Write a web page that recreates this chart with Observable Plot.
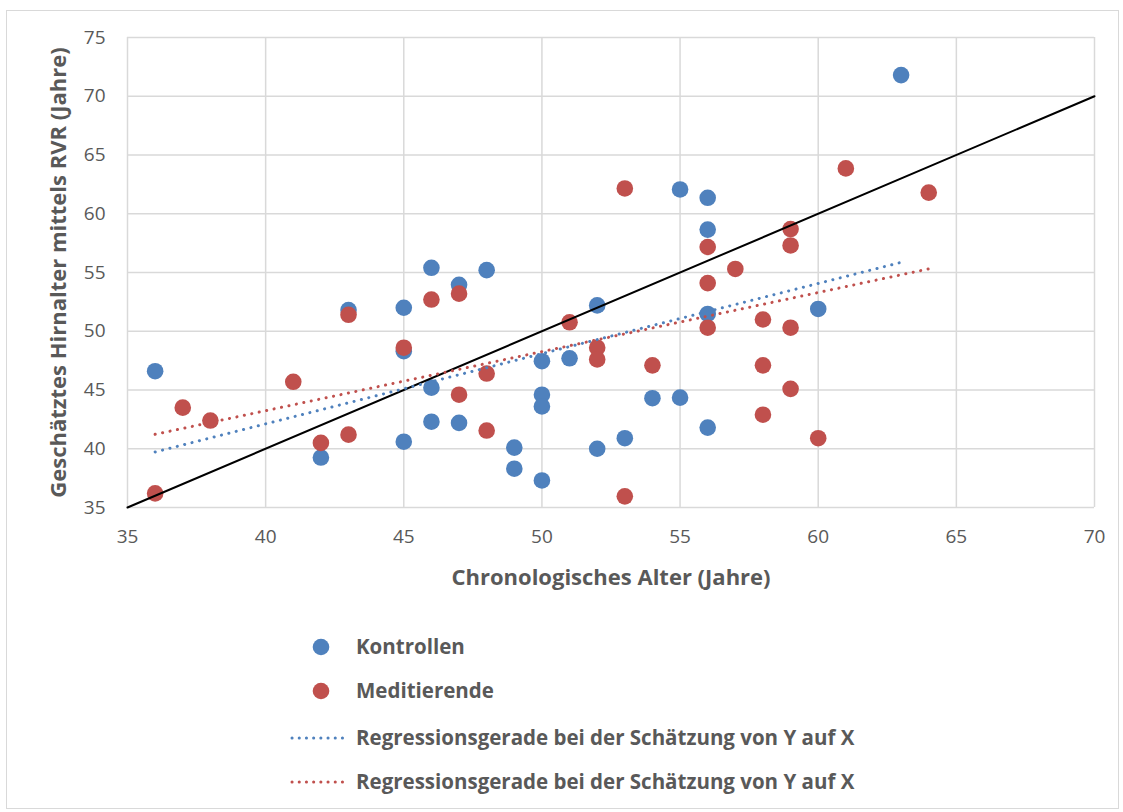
<!DOCTYPE html>
<html><head><meta charset="utf-8">
<script src="https://cdn.jsdelivr.net/npm/d3@7"></script>
<script src="https://cdn.jsdelivr.net/npm/@observablehq/plot@0.6"></script>
<style>
body{margin:0;background:#fff;font-family:"Open Sans",Lato,sans-serif;}
#wrap{position:relative;width:1123px;height:812px;overflow:hidden;background:#fff}
#frame{position:absolute;left:6px;top:10px;width:1113px;height:799px;border:1px solid #d9d9d9;box-sizing:border-box}
#chart{position:absolute;left:0;top:0}
.leg{position:absolute;left:0;height:26px;font-weight:bold;font-size:20.5px;color:#595959;white-space:nowrap}
.leg svg{position:absolute;left:0;top:0}
.leg span{position:absolute;left:356px;top:50%;transform:translateY(-52%)}
</style></head>
<body><div id="wrap"><div id="frame"></div><div id="chart"></div><div id="legend"></div></div>
<script>
// Chronologisches Alter (x) und geschätztes Hirnalter (y)
const kontrollenAlter   = [36, 42, 43, 45, 45, 45, 46, 46, 46, 47, 47, 48, 49, 49, 50, 50, 50, 50, 51, 52, 52, 53, 54, 55, 55, 56, 56, 56, 56, 60, 63];
const kontrollenHirn    = [46.6, 39.25, 51.8, 52.0, 48.3, 40.6, 55.4, 45.2, 42.3, 53.95, 42.2, 55.2, 40.1, 38.3, 47.45, 44.6, 43.6, 37.3, 47.7, 52.2, 40.0, 40.9, 44.3, 62.07, 44.35, 61.36, 58.65, 51.47, 41.8, 51.9, 71.8];
const meditierendeAlter = [36, 37, 38, 41, 42, 43, 43, 45, 46, 47, 47, 48, 48, 51, 52, 52, 53, 53, 54, 56, 56, 56, 57, 58, 58, 58, 59, 59, 59, 59, 60, 61, 64];
const meditierendeHirn  = [36.2, 43.5, 42.4, 45.7, 40.5, 51.4, 41.2, 48.6, 52.7, 53.2, 44.6, 46.4, 41.55, 50.76, 48.6, 47.6, 62.15, 35.95, 47.1, 57.17, 54.1, 50.3, 55.3, 51.0, 47.1, 42.9, 58.7, 57.3, 50.3, 45.1, 40.9, 63.86, 61.8];
const identitaet = [35, 70];
const xTicks = [35, 40, 45, 50, 55, 60, 65, 70];
const yTicks = [35, 40, 45, 50, 55, 60, 65, 70, 75];
const xTitle = "Chronologisches Alter (Jahre)";
const yTitle = "Geschätztes Hirnalter mittels RVR (Jahre)";
const legendLabels = ["Kontrollen", "Meditierende", "Regressionsgerade bei der Schätzung von Y auf X", "Regressionsgerade bei der Schätzung von Y auf X"];

const blue = "#4F81BD", red = "#C0504D", grey = "#595959";
const font = "'Open Sans', Lato, sans-serif";
const kontrollen = kontrollenAlter.map((x, i) => ({x, y: kontrollenHirn[i]}));
const meditierende = meditierendeAlter.map((x, i) => ({x, y: meditierendeHirn[i]}));

const chart = Plot.plot({
  width: 1123, height: 600,
  marginLeft: 127, marginRight: 29, marginTop: 37, marginBottom: 93,
  style: {fontFamily: font, color: grey, background: "transparent", overflow: "visible"},
  x: {domain: [35, 70], ticks: xTicks},
  y: {domain: [35, 75], ticks: yTicks},
  marks: [
    Plot.gridX(xTicks, {stroke: "#d9d9d9", strokeOpacity: 1, strokeWidth: 1.5}),
    Plot.gridY(yTicks, {stroke: "#d9d9d9", strokeOpacity: 1, strokeWidth: 1.5}),
    Plot.axisX(xTicks, {tickSize: 0, tickPadding: 22, fontSize: 19, fill: grey, label: null}),
    Plot.axisY(yTicks, {tickSize: 0, tickPadding: 22, fontSize: 19, fill: grey, label: null}),
    Plot.dot(kontrollen, {x: "x", y: "y", r: 8.3, fill: blue}),
    Plot.dot(meditierende, {x: "x", y: "y", r: 8.3, fill: red}),
    Plot.line(identitaet, {x: d => d, y: d => d, stroke: "#000", strokeWidth: 2}),
    Plot.linearRegressionY(kontrollen, {x: "x", y: "y", stroke: blue, ci: 0, strokeWidth: 3, strokeDasharray: "0.1 7.5", strokeLinecap: "round"}),
    Plot.linearRegressionY(meditierende, {x: "x", y: "y", stroke: red, ci: 0, strokeWidth: 3, strokeDasharray: "0.1 7.5", strokeLinecap: "round"}),
    Plot.text([xTitle], {text: d => d, frameAnchor: "bottom", lineAnchor: "middle", textAnchor: "middle", dy: 70, fontSize: 22, fontWeight: "bold", fill: grey}),
    Plot.text([yTitle], {text: d => d, frameAnchor: "left", lineAnchor: "middle", textAnchor: "middle", dx: -69, rotate: -90, fontSize: 22, fontWeight: "bold", fill: grey})
  ]
});
document.getElementById("chart").appendChild(chart);

// Legend (below the SVG)
const legend = document.getElementById("legend");
const rowsY = [647, 691, 738, 782];
const kinds = [["dot", blue], ["dot", red], ["line", blue], ["line", red]];
legendLabels.forEach((lab, i) => {
  const row = document.createElement("div");
  row.className = "leg";
  row.style.top = (rowsY[i] - 13) + "px";
  row.style.width = "1123px";
  const [kind, col] = kinds[i];
  const shape = kind === "dot"
    ? `<circle cx="321" cy="13" r="8.3" fill="${col}"/>`
    : `<line x1="292" x2="349" y1="13" y2="13" stroke="${col}" stroke-width="3" stroke-dasharray="0.1 7.1" stroke-linecap="round"/>`;
  row.innerHTML = `<svg width="1123" height="26">${shape}</svg><span>${lab}</span>`;
  legend.appendChild(row);
});
</script></body></html>
